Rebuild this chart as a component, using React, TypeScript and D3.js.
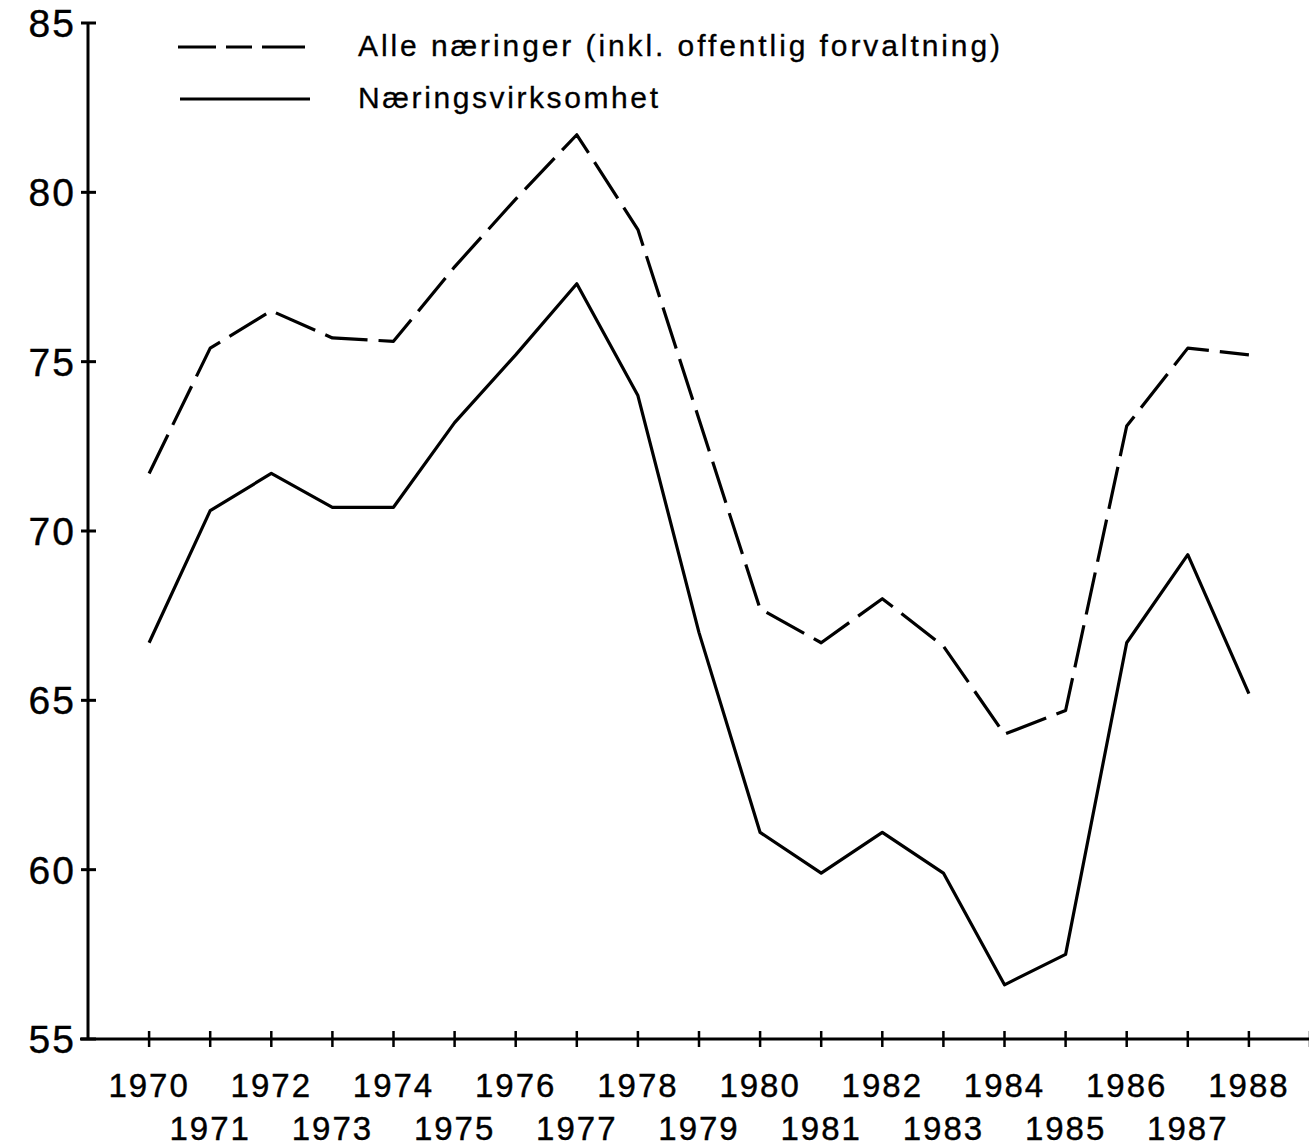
import React from "react";
import * as d3 from "d3";

const years = [1970, 1971, 1972, 1973, 1974, 1975, 1976, 1977, 1978, 1979, 1980, 1981, 1982, 1983, 1984, 1985, 1986, 1987, 1988];
const alleNaeringer = [71.7, 75.4, 76.5, 75.7, 75.6, 77.8, 79.8, 81.7, 78.9, 73.3, 67.7, 66.7, 68.0, 66.6, 64.0, 64.7, 73.1, 75.4, 75.2];
const naeringsvirksomhet = [66.7, 70.6, 71.7, 70.7, 70.7, 73.2, 75.2, 77.3, 74.0, 67.0, 61.1, 59.9, 61.1, 59.9, 56.6, 57.5, 66.7, 69.3, 65.2];
const yTicks = [55, 60, 65, 70, 75, 80, 85];
const legendLabels = ["Alle næringer (inkl. offentlig forvaltning)", "Næringsvirksomhet"];

const W = 1309;
const H = 1148;
const FONT = "'Liberation Sans', Arial, sans-serif";

export default function App() {
  const x = d3.scaleLinear().domain([1969, 1989]).range([88, 1310]);
  const y = d3.scaleLinear().domain([55, 85]).range([1039, 23]);
  const line = d3
    .line<number>()
    .x((_, i) => x(years[i]))
    .y((d) => y(d));

  const x0 = x(1969);
  const yBase = y(55);

  return (
    <svg
      width={W}
      height={H}
      style={{ position: "absolute", left: 0, top: 0, background: "#fff" }}
      fontFamily={FONT}
    >
      <rect x={0} y={0} width={W} height={H} fill="#fff" />
      {/* y axis */}
      <line x1={x0} x2={x0} y1={y(85)} y2={yBase} stroke="#000" strokeWidth={3} />
      {yTicks.map((t) => (
        <g key={t}>
          <line x1={x0 - 7} x2={x0 + 8} y1={y(t)} y2={y(t)} stroke="#000" strokeWidth={3} />
          <text
            x={76}
            y={y(t)}
            dy="0.36em"
            textAnchor="end"
            fontSize={39}
            letterSpacing={2}
            stroke="#000"
            strokeWidth={0.4}
          >
            {t}
          </text>
        </g>
      ))}
      {/* x axis */}
      <line x1={80} x2={W} y1={yBase} y2={yBase} stroke="#000" strokeWidth={3} />
      {years.concat([1989]).map((yr) => (
        <line key={yr} x1={x(yr)} x2={x(yr)} y1={yBase - 8} y2={yBase + 8} stroke="#000" strokeWidth={2.5} />
      ))}
      {years.map((yr, i) => (
        <text
          key={yr}
          x={x(yr)}
          y={i % 2 === 0 ? 1097 : 1140}
          textAnchor="middle"
          fontSize={33}
          letterSpacing={2}
          stroke="#000"
          strokeWidth={0.4}
        >
          {yr}
        </text>
      ))}
      {/* series */}
      <path d={line(alleNaeringer) || ""} fill="none" stroke="#000" strokeWidth={3.2} strokeDasharray="43 11" strokeLinejoin="round" />
      <path d={line(naeringsvirksomhet) || ""} fill="none" stroke="#000" strokeWidth={3.2} strokeLinejoin="round" />
      {/* legend */}
      <line x1={178} x2={305} y1={47} y2={47} stroke="#000" strokeWidth={3} strokeDasharray="38 10 26 10 43" />
      <line x1={180} x2={310} y1={99} y2={99} stroke="#000" strokeWidth={3} />
      <text x={358} y={45} dy="0.36em" fontSize={30} stroke="#000" strokeWidth={0.3} textLength={642} lengthAdjust="spacing">
        {legendLabels[0]}
      </text>
      <text x={358} y={97} dy="0.36em" fontSize={30} stroke="#000" strokeWidth={0.3} textLength={300} lengthAdjust="spacing">
        {legendLabels[1]}
      </text>
    </svg>
  );
}
